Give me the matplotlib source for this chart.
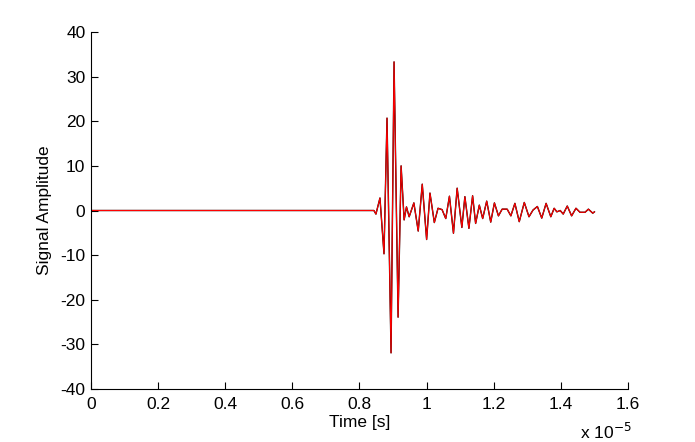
import matplotlib
matplotlib.use("Agg")
import matplotlib.pyplot as plt
import numpy as np

# time in units of 1e-5 s, amplitude
time_1e5 = [0.0, 0.843, 0.849, 0.861, 0.873, 0.882, 0.894, 0.903, 0.915, 0.924,
            0.933, 0.940, 0.948, 0.962, 0.975, 0.987, 1.000, 1.010, 1.023, 1.034,
            1.046, 1.057, 1.068, 1.080, 1.091, 1.105, 1.114, 1.126, 1.137, 1.146,
            1.157, 1.167, 1.179, 1.191, 1.202, 1.214, 1.225, 1.240, 1.251, 1.263,
            1.276, 1.291, 1.305, 1.317, 1.330, 1.343, 1.356, 1.370, 1.380, 1.388,
            1.398, 1.407, 1.419, 1.432, 1.445, 1.457, 1.472, 1.482, 1.495, 1.500]
amplitude = [0.0, 0.0, -0.8, 2.8, -9.7, 20.7, -31.9, 33.3, -23.9, 10.0,
             -2.1, 0.8, -1.4, 1.7, -4.6, 5.9, -6.5, 3.9, -2.7, 0.5,
             0.2, -1.8, 3.2, -5.1, 5.0, -3.8, 3.1, -4.0, 3.3, -2.9,
             1.2, -1.8, 2.1, -2.6, 1.7, -1.2, 0.3, 0.3, -1.2, 1.6,
             -2.5, 1.8, -1.4, 0.1, 0.9, -1.7, 1.6, -1.4, 0.5, -0.3,
             0.0, -0.8, 1.0, -1.2, 0.5, -0.4, -0.4, 0.3, -0.6, -0.3]

x_ticks = [0, 0.2, 0.4, 0.6, 0.8, 1.0, 1.2, 1.4, 1.6]
x_tick_labels = ['0', '0.2', '0.4', '0.6', '0.8', '1', '1.2', '1.4', '1.6']
y_ticks = [-40, -30, -20, -10, 0, 10, 20, 30, 40]

plt.rcParams.update({
    'font.family': ['Liberation Sans', 'DejaVu Sans'],
    'font.size': 12.5,
    'axes.unicode_minus': False,
})

fig = plt.figure(figsize=(6.95, 4.42), dpi=100)
ax = fig.add_axes([0.1309, 0.1199, 0.7727, 0.8077])

t = np.array(time_1e5) * 1e-5
ax.plot(t, amplitude, color='black', linewidth=1.0)
ax.plot(t, amplitude, color='red', linewidth=0.8)

ax.set_xlim(0, 1.6e-5)
ax.set_ylim(-40, 40)
ax.set_xticks(np.array(x_ticks) * 1e-5)
ax.set_xticklabels(x_tick_labels)
ax.set_yticks(y_ticks)
ax.set_yticklabels([str(v) for v in y_ticks])

ax.spines['top'].set_visible(False)
ax.spines['right'].set_visible(False)
ax.tick_params(direction='in', length=5, width=0.8)
ax.tick_params(axis='x', pad=6)
ax.tick_params(axis='y', pad=4)

ax.set_xlabel('Time [s]', labelpad=2)
ax.set_ylabel('Signal Amplitude', labelpad=6)
fig.text(0.835, 0.006, r'x 10$^{-5}$', fontsize=12.5)

fig.savefig('out.png', dpi=100, facecolor='white')
